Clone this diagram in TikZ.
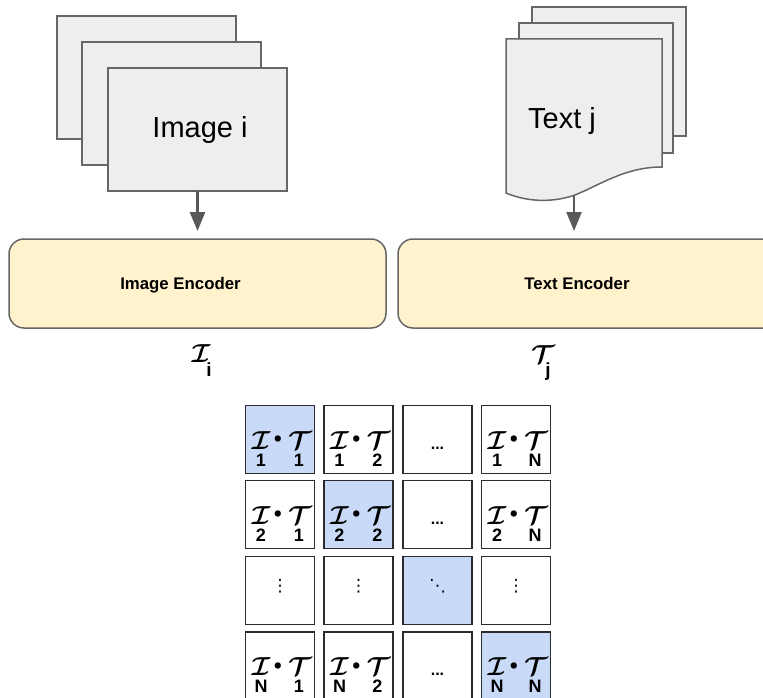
\documentclass[tikz,border=0pt]{standalone}
\usepackage{fontspec}
\setmainfont{Liberation Sans}
\newfontfamily\dejavu{DejaVu Sans}
\DeclareFontShape{OMS}{cmsy}{m}{n}{<-> cmsy10}{}
\DeclareFontShape{OMS}{cmsy}{b}{n}{<-> cmbsy10}{}
\usetikzlibrary{arrows.meta,calc}
\definecolor{pagefill}{HTML}{EEEEEE}
\definecolor{pagedraw}{HTML}{666666}
\definecolor{encfill}{HTML}{FFF2CC}
\definecolor{cellblue}{HTML}{C9DAF8}
\definecolor{arrowc}{HTML}{595959}
\definecolor{cellline}{HTML}{2B2B2B}
\newcommand\simpair[3]{%
  \node[calg, anchor=base] (#1-I) at ($(#1.center)+(-19,9.5)$) {$\mathcal{I}$};
  \node[dotmark] (#1-d) at ($(#1.center)+(-2,0)$) {$\bullet$};
  \node[calg, anchor=base] (#1-T) at ($(#1.center)+(20,9.5)$) {$\mathcal{T}$};
  \node[subl, anchor=base] (#1-a) at ($(#1.center)+(-19,26.5)$) {#2};
  \node[subl, anchor=base] (#1-b) at ($(#1.center)+(19,26.5)$) {#3};
}
\begin{document}
\begin{tikzpicture}[x=1pt,y=-1pt,
  pagebox/.style={draw=pagedraw, fill=pagefill, line width=1.5pt, inner sep=0pt, outer sep=0pt, anchor=north west},
  encbox/.style={draw=pagedraw, fill=encfill, line width=1.5pt, rounded corners=15pt, inner sep=0pt, outer sep=0pt, anchor=north west, minimum height=89pt},
  enclabel/.style={font=\bfseries\fontsize{16.8}{17}\selectfont, inner sep=0pt, anchor=base},
  biglabel/.style={font=\fontsize{29}{30}\selectfont, inner sep=0pt, anchor=base},
  flow/.style={draw=arrowc, line width=2.5pt, -{Triangle[length=19pt,width=15pt]}, shorten >=8pt},
  cellbox/.style={draw=cellline, line width=1.8pt, minimum width=69pt, minimum height=68pt, inner sep=0pt, outer sep=0pt, fill=white},
  diagcell/.style={fill=cellblue},
  calg/.style={inner sep=0pt, font=\fontsize{26}{26}\selectfont\boldmath},
  subl/.style={inner sep=0pt, font=\bfseries\fontsize{18}{18}\selectfont},
  dotmark/.style={inner sep=0pt, font=\fontsize{14}{14}\selectfont\boldmath},
  ellip/.style={inner sep=0pt, font=\bfseries\fontsize{16}{16}\selectfont},
  vell/.style={inner sep=0pt, font=\dejavu\fontsize{17}{17}\selectfont},
]
\useasboundingbox (0,0) rectangle (763,698);
\clip (0,0) rectangle (763,698);

% image stack
\node[pagebox, minimum width=179pt, minimum height=123pt] (imgA) at (57,16) {};
\node[pagebox, minimum width=179pt, minimum height=123pt] (imgB) at (82,42) {};
\node[pagebox, minimum width=179pt, minimum height=123pt] (imgC) at (108,68) {};
\node[biglabel] (imgtxt) at (200,138) {Image i};

% text stack
\node[pagebox, minimum width=154pt, minimum height=129pt] (txtA) at (532,7) {};
\node[pagebox, minimum width=154pt, minimum height=130pt] (txtB) at (519,23) {};
\draw[draw=pagedraw, fill=pagefill, line width=1.5pt]
  (506,39) -- (662,39) -- (662,167)
  .. controls (625,167) and (600,185) .. (575,195)
  .. controls (555,202) and (530,203) .. (506,193) -- cycle;
\node[biglabel] (txttxt) at (562,129) {Text j};
\coordinate (docb) at (574,196);

% encoders
\node[encbox, minimum width=377pt] (ienc) at (9,239) {};
\node[encbox, minimum width=392pt] (tenc) at (398,239) {};
\node[enclabel] (ienctxt) at (180.5,289) {Image Encoder};
\node[enclabel] (tenctxt) at (577,289) {Text Encoder};

% arrows
\draw[flow] (imgC.south) -- (imgC.south |- ienc.north);
\draw[flow] (docb) -- (docb |- tenc.north);

% embeddings
\node[calg, anchor=base] (Ii) at (201,362) {$\mathcal{I}$};
\node[subl, font=\bfseries\fontsize{19}{19}\selectfont, anchor=base] (Iisub) at (209,376) {i};
\node[calg, anchor=base] (Tj) at (543,363) {$\mathcal{T}$};
\node[subl, font=\bfseries\fontsize{19}{19}\selectfont, anchor=base] (Tjsub) at (548,376) {j};

% matrix
\node[cellbox, diagcell] (c11) at (280,439.5) {};
\node[cellbox] (c12) at (358.5,439.5) {};
\node[cellbox] (c13) at (437.5,439.5) {};
\node[cellbox] (c14) at (516,439.5) {};
\node[cellbox] (c21) at (280,514.5) {};
\node[cellbox, diagcell] (c22) at (358.5,514.5) {};
\node[cellbox] (c23) at (437.5,514.5) {};
\node[cellbox] (c24) at (516,514.5) {};
\node[cellbox] (c31) at (280,590.5) {};
\node[cellbox] (c32) at (358.5,590.5) {};
\node[cellbox, diagcell] (c33) at (437.5,590.5) {};
\node[cellbox] (c34) at (516,590.5) {};
\node[cellbox] (c41) at (280,666) {};
\node[cellbox] (c42) at (358.5,666) {};
\node[cellbox] (c43) at (437.5,666) {};
\node[cellbox, diagcell] (c44) at (516,666) {};

\simpair{c11}{1}{1}
\simpair{c12}{1}{2}
\simpair{c14}{1}{N}
\simpair{c21}{2}{1}
\simpair{c22}{2}{2}
\simpair{c24}{2}{N}
\simpair{c41}{N}{1}
\simpair{c42}{N}{2}
\simpair{c44}{N}{N}

\node[ellip, anchor=base] (e13) at ($(c13.center)+(0,9.5)$) {...};
\node[ellip, anchor=base] (e23) at ($(c23.center)+(0,9.5)$) {...};
\node[ellip, anchor=base] (e43) at ($(c43.center)+(0,9.5)$) {...};
\node[vell] (e31) at ($(c31.center)+(0,-4)$) {⋮};
\node[vell] (e32) at ($(c32.center)+(0,-4)$) {⋮};
\node[vell] (e34) at ($(c34.center)+(0,-4)$) {⋮};
\node[vell] (e33) at ($(c33.center)+(0,-4)$) {⋱};
\end{tikzpicture}
\end{document}
